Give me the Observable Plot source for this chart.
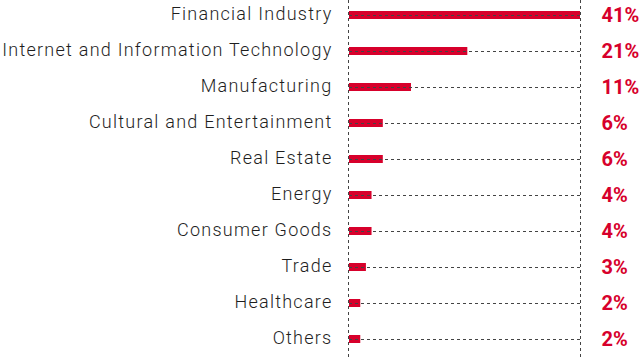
<!DOCTYPE html>
<html>
<head>
<meta charset="utf-8">
<script src="https://cdn.jsdelivr.net/npm/d3@7"></script>
<script src="https://cdn.jsdelivr.net/npm/@observablehq/plot@0.6"></script>
<style>
  html, body { margin: 0; padding: 0; background: #fff; }
  #chart svg { display: block; }
</style>
</head>
<body>
<div id="chart"></div>
<script>
const industries = [
  "Financial Industry",
  "Internet and Information Technology",
  "Manufacturing",
  "Cultural and Entertainment",
  "Real Estate",
  "Energy",
  "Consumer Goods",
  "Trade",
  "Healthcare",
  "Others"
];
const shares = [41, 21, 11, 6, 6, 4, 4, 3, 2, 2];

const data = industries.map((name, i) => ({ name, value: shares[i] }));
const red = "#d7002b";

const chart = Plot.plot({
  width: 640,
  height: 358,
  marginTop: 0,
  marginBottom: 0,
  marginLeft: 0,
  marginRight: 0,
  x: { domain: [0, 41], range: [349, 580], axis: null },
  y: { domain: industries, range: [-3, 357], padding: 0, axis: null },
  style: { background: "#fff" },
  marks: [
    Plot.barX(data, { x: "value", y: "name", fill: red, insetTop: 14, insetBottom: 14 }),
    Plot.ruleY(data, { y: "name", x1: 0, x2: 41, stroke: "#444", strokeWidth: 1, strokeDasharray: "3,3" }),
    Plot.ruleX([0], { stroke: "#444", strokeWidth: 1, strokeDasharray: "3,3", dx: -1 }),
    Plot.ruleX([41], { stroke: "#444", strokeWidth: 1, strokeDasharray: "3,3" }),
    Plot.text(data, {
      x: 0, y: "name", text: "name", dx: -17, textAnchor: "end",
      fontSize: 18, fontFamily: "Roboto", fontWeight: 300, fill: "#1e1e1e", dy: -1
    }),
    Plot.text(data, {
      x: 41, y: "name", text: d => d.value + "%", dx: 21, textAnchor: "start",
      fontSize: 20, fontFamily: "Roboto", fontWeight: 700, fill: red, dy: 0
    })
  ]
});
d3.select(chart).selectAll('g[aria-label="text"]')
  .filter((d, i) => i === 0)
  .style("letter-spacing", "1.25px");
document.getElementById("chart").appendChild(chart);
</script>
</body>
</html>
